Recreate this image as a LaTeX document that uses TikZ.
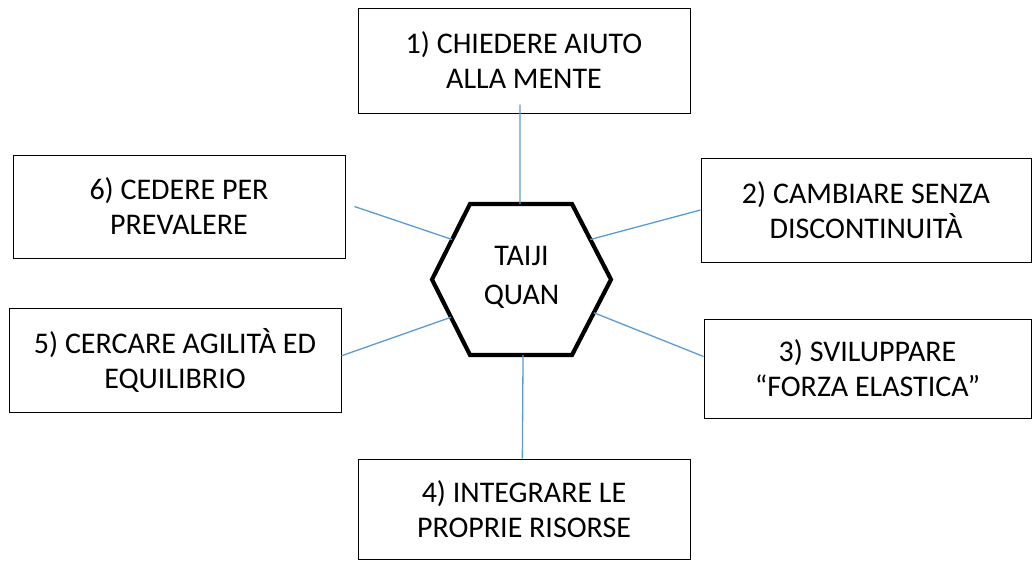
\documentclass[tikz,border=0pt]{standalone}
\usepackage{fontspec}
\setmainfont{Carlito}
\usetikzlibrary{calc}
\definecolor{linkblue}{RGB}{91,155,213}
\tikzset{
  labelbox/.style={draw=black, line width=1pt, inner sep=0pt, align=center,
    font=\fontsize{30}{35}\selectfont, text=black},
  hexline/.style={draw=black, line width=4.2pt, line join=miter},
  link/.style={draw=linkblue, line width=1.3pt}
}
\begin{document}
\begin{tikzpicture}[x=1pt, y=-1pt]
\useasboundingbox (0,0) rectangle (1032,560);
% boxes
\node[labelbox, minimum width=332pt, minimum height=105pt] (b1) at (524,60.5) {1) CHIEDERE AIUTO\\ALLA MENTE};
\node[labelbox, minimum width=330pt, minimum height=104pt] (b2) at (866,210) {2) CAMBIARE SENZA\\DISCONTINUITÀ};
\node[labelbox, minimum width=327pt, minimum height=99pt] (b3) at (867.5,368.5) {3) SVILUPPARE\\“FORZA ELASTICA”};
\node[labelbox, minimum width=332pt, minimum height=100pt] (b4) at (524,509) {4) INTEGRARE LE\\PROPRIE RISORSE};
\node[labelbox, minimum width=332pt, minimum height=104pt] (b5) at (175,360) {5) CERCARE AGILITÀ ED\\EQUILIBRIO};
\node[labelbox, minimum width=332pt, minimum height=103pt] (b6) at (179,206.5) {6) CEDERE PER\\PREVALERE};
% hexagon
\coordinate (hA) at (470,204);
\coordinate (hB) at (572,204);
\coordinate (hC) at (611,279.5);
\coordinate (hD) at (572,355);
\coordinate (hE) at (470,355);
\coordinate (hF) at (432,279.5);
\draw[hexline] (hA) -- (hB) -- (hC) -- (hD) -- (hE) -- (hF) -- cycle;
\node[align=center, inner sep=0pt, font=\fontsize{30}{35}\selectfont] (hex) at (521.5,277.5) {TAIJI\\[4pt]QUAN};
% connectors
\draw[link] ([xshift=-4pt]b1.south) ++(0,-9) -- ($(hA)!0.49!(hB)$);
\draw[link] (b2.west) -- ($(hB)!0.47!(hC)$);
\draw[link] ($(b3.north west)!0.38!(b3.south west)$) -- ($(hC)!0.44!(hD)$);
\draw[link] ($(b4.north west)!0.495!(b4.north east)$) -- ($(hD)!0.48!(hE)$);
\draw[link] ($(b5.north east)!0.46!(b5.south east)$) -- ($(hE)!0.5!(hF)$);
\draw[link] ([xshift=9pt]b6.east) -- ($(hF)!0.53!(hA)$);
\end{tikzpicture}
\end{document}
